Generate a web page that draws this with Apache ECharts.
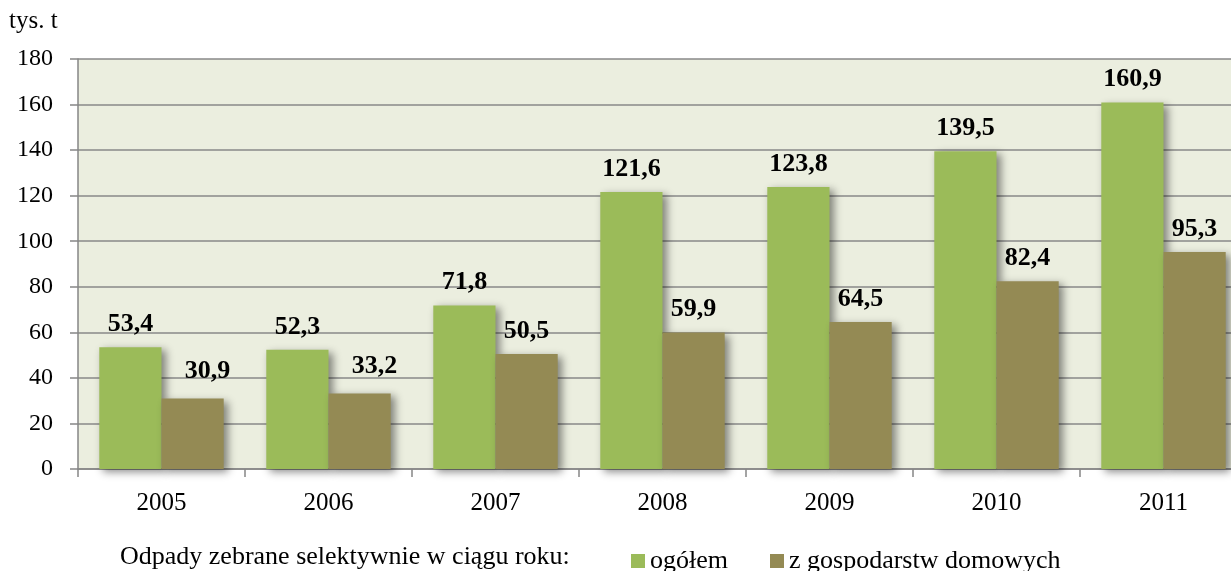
<!DOCTYPE html>
<html>
<head>
<meta charset="utf-8">
<script src="https://cdn.jsdelivr.net/npm/echarts@6/dist/echarts.min.js"></script>
<style>html,body{margin:0;padding:0;background:#fff}#c{width:1231px;height:571px}</style>
</head>
<body>
<div id="c"></div>
<script>
var categories = ['2005','2006','2007','2008','2009','2010','2011'];
var ogolem = [53.4, 52.3, 71.8, 121.6, 123.8, 139.5, 160.9];
var gospodarstwa = [30.9, 33.2, 50.5, 59.9, 64.5, 82.4, 95.3];
var seriesNames = ['ogółem', 'z gospodarstw domowych'];
var yTicks = {min: 0, max: 180, interval: 20};

var FONT = '"Liberation Serif", "Times New Roman", serif';
var chart = echarts.init(document.getElementById('c'));
function fmt(p){ return String(p.value).replace('.', ','); }
var shadow = {shadowBlur: 8, shadowOffsetX: 4, shadowOffsetY: 3, shadowColor: 'rgba(0,0,0,0.45)'};
// the first two household labels sit shifted right in the original
var brownData = gospodarstwa.map(function (v, i) {
  return i < 2 ? {value: v, label: {offset: [15, -4]}} : v;
});
chart.setOption({
  animation: false,
  backgroundColor: '#fff',
  grid: {left: 78, top: 59, bottom: 102, width: 1169, outerBoundsMode: 'none', containLabel: false,
         show: true, backgroundColor: '#EBEEDF', borderWidth: 0},
  graphic: [
    {type: 'text', left: 9, top: 9, style: {text: 'tys. t', font: '25px ' + FONT, fill: '#000'}},
    {type: 'text', left: 120, top: 544, style: {text: 'Odpady zebrane selektywnie w ciągu roku:', font: '26px ' + FONT, fill: '#000'}}
  ],
  legend: {
    left: 626, top: 543, icon: 'rect', itemWidth: 14, itemHeight: 14, itemGap: 42,
    textStyle: {fontFamily: FONT, fontSize: 26, color: '#000', padding: [0,0,0,0]},
    data: seriesNames
  },
  xAxis: {
    type: 'category', data: categories,
    axisLine: {lineStyle: {color: '#868686', width: 1.5}},
    axisTick: {show: true, length: 8, lineStyle: {color: '#868686', width: 1.5}},
    axisLabel: {fontFamily: FONT, fontSize: 25, color: '#000', margin: 22}
  },
  yAxis: {
    type: 'value', min: yTicks.min, max: yTicks.max, interval: yTicks.interval,
    axisLine: {show: true, lineStyle: {color: '#868686', width: 1.5}},
    axisTick: {show: true, length: 8, lineStyle: {color: '#868686', width: 1.5}},
    splitLine: {lineStyle: {color: '#888888', width: 1.5}},
    axisLabel: {fontFamily: FONT, fontSize: 24, color: '#000', margin: 25}
  },
  series: [
    {name: seriesNames[0], type: 'bar', data: ogolem, barGap: '0%', barCategoryGap: '25.5%',
     itemStyle: Object.assign({color: '#9BBB59'}, shadow),
     label: {show: true, position: 'top', distance: 10, formatter: fmt, fontFamily: FONT, fontSize: 26, fontWeight: 'bold', color: '#000'}},
    {name: seriesNames[1], type: 'bar', data: brownData, barGap: '0%', barCategoryGap: '25.5%',
     itemStyle: Object.assign({color: '#948A54'}, shadow),
     label: {show: true, position: 'top', distance: 10, formatter: fmt, fontFamily: FONT, fontSize: 26, fontWeight: 'bold', color: '#000'}}
  ]
});
</script>
</body>
</html>
